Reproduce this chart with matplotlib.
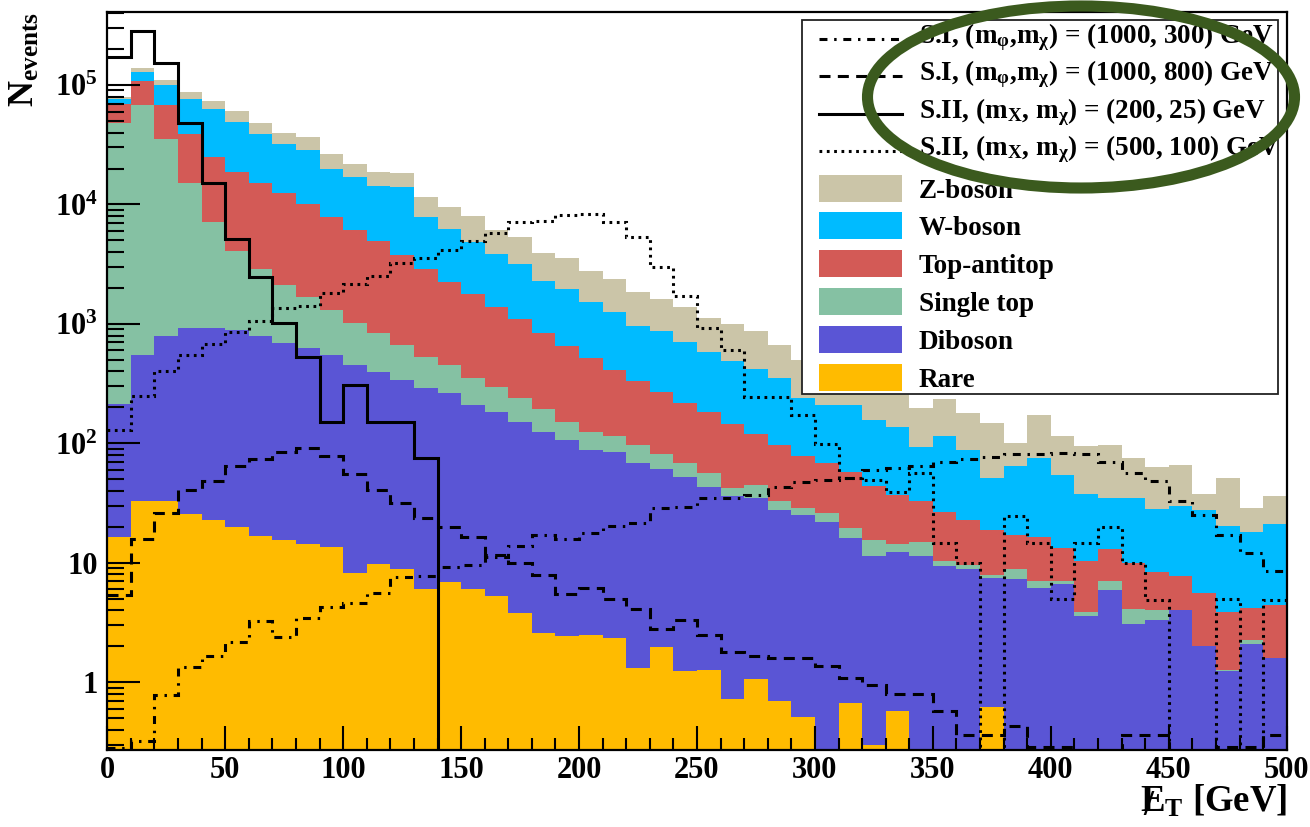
import numpy as np
import matplotlib
matplotlib.use('Agg')
import matplotlib.pyplot as plt
from matplotlib.patches import Rectangle, Ellipse
from matplotlib.lines import Line2D
from matplotlib.ticker import LogLocator, MultipleLocator, NullFormatter
from matplotlib.transforms import IdentityTransform

plt.rcParams['font.family'] = ['Liberation Serif', 'DejaVu Serif']
plt.rcParams['font.weight'] = 'bold'
plt.rcParams['mathtext.fontset'] = 'custom'
plt.rcParams['mathtext.rm'] = 'Liberation Serif:bold'
plt.rcParams['mathtext.bf'] = 'Liberation Serif:bold'
plt.rcParams['mathtext.it'] = 'Liberation Serif:bold'
plt.rcParams['mathtext.default'] = 'bf'

# 10 GeV bins of missing transverse energy
edges = np.arange(0, 510, 10)

# background processes (events per bin), bottom of the stack first
rare = [16.5, 33, 33, 25.5, 22.8, 20, 16.8, 15.5, 14.4, 13.6,
        8.2, 9.8, 8.8, 6.0, 6.95, 6.1, 5.3, 3.8, 2.57, 2.44,
        2.49, 2.36, 1.31, 1.99, 1.25, 1.26, 0.73, 1.07, 0.70, 0.51,
        0, 0.67, 0.3, 0.57, 0, 0, 0, 0.62, 0, 0,
        0, 0, 0, 0, 0, 0, 0, 0, 0, 0]
diboson = [197, 517, 757, 894, 896, 870, 775, 682, 611, 536,
           445, 388, 331, 283, 255, 204, 178, 146, 121, 105,
           85.5, 81.6, 67.7, 59, 50.8, 42.1, 35.3, 33.6, 26.8, 24.5,
           22, 15.6, 11.1, 11.8, 11.4, 9.4, 8.8, 6.8, 7.3, 6.2,
           6.7, 3.6, 5.9, 3.1, 3.3, 4.0, 2.0, 1.24, 2.1, 1.6]
single_top = [47800, 67500, 34800, 14300, 6180, 3210, 2080, 1420, 1065, 760,
              567, 447, 326, 243, 191, 145, 112, 88, 69, 45,
              37, 31, 28, 20.5, 16, 13.5, 6, 10.1, 5.5, 3.6,
              4, 3.2, 4.1, 2.0, 3.6, 1.0, 0.8, 0.5, 1.5, 0.9,
              0.3, 0.3, 1.1, 1.0, 0.7, 0, 0, 0.03, 0.15, 0]
ttbar = [21000, 40000, 32400, 23500, 17900, 14700, 12300, 10400, 8410, 6590,
         5080, 4135, 3114, 2338, 1807, 1425, 1095, 852, 641, 505,
         396, 296, 238, 186.5, 148, 127, 103, 76, 64, 49.4,
         42, 38.5, 28.5, 22.6, 18, 16.4, 13.4, 10.9, 8.3, 9.3,
         6.2, 6.5, 6.0, 5.8, 4.4, 3.7, 3.6, 2.63, 1.95, 2.8]
wjets = [7000, 21000, 32000, 37300, 38000, 30500, 23500, 19500, 18500, 12100,
         11000, 9420, 10120, 5030, 3970, 3100, 2460, 2080, 1466, 1293,
         1009, 859, 631, 605, 486, 402, 347, 296, 254, 160,
         142, 152, 113, 101, 61, 88, 65, 33, 47, 59,
         41, 27.6, 22, 25, 19.6, 22.3, 22.1, 16.4, 14, 16.6]
zjets = [4000, 9000, 10000, 12000, 11000, 11300, 9600, 8000, 7900, 6400,
         4600, 4200, 4300, 3700, 3240, 3120, 2250, 2130, 1600, 1590,
         1260, 1110, 894, 737, 688, 544, 506, 460, 315, 261,
         215, 215, 163, 142, 102, 120, 91, 97, 36, 98,
         61, 57, 62, 41, 36, 36, 10.3, 30.7, 10.4, 15]

# signal benchmarks
si_1000_300 = [0.28, 0.32, 0.78, 1.35, 1.66, 2.16, 3.26, 2.38, 3.43, 4.25,
               4.58, 5.6, 7.65, 7.76, 9.3, 9.6, 11.1, 13.8, 17.1, 15.7,
               17.9, 20.3, 21.7, 28.6, 29.5, 34.7, 34.7, 37, 43.4, 47.8,
               49.3, 51, 59.9, 61.8, 64.7, 70, 73.6, 77.4, 81.5, 81.5,
               83.6, 81.5, 70, 56.9, 48.7, 33, 25.1, 17.1, 12.2, 8.6]
si_1000_800 = [5.4, 15.7, 26.3, 40.7, 48.4, 64.7, 73.6, 85, 92, 78,
               55, 41, 32, 23.9, 20, 16.5, 11.6, 9.9, 7.9, 5.5,
               6.2, 5.0, 4.1, 2.8, 3.3, 2.5, 1.8, 1.66, 1.59, 1.59,
               1.37, 1.08, 0.95, 0.8, 0.8, 0.58, 0.36, 0.36, 0.43, 0.29,
               0.29, 0, 0, 0.36, 0.36, 0, 0, 0.29, 0.29, 0.36]
sii_200_25 = [1.7e5, 2.83e5, 1.54e5, 4.83e4, 1.52e4, 5100, 2480, 1020, 526, 152,
              308, 152, 152, 76, 0, 0, 0, 0, 0, 0,
              0, 0, 0, 0, 0, 0, 0, 0, 0, 0,
              0, 0, 0, 0, 0, 0, 0, 0, 0, 0,
              0, 0, 0, 0, 0, 0, 0, 0, 0, 0]
sii_500_100 = [129, 249, 405, 550, 680, 851, 1060, 1350, 1410, 1800,
               2160, 2520, 3210, 3540, 4160, 4980, 5740, 7180, 7300, 8200,
               8300, 7180, 5300, 3000, 1710, 919, 605, 246, 246, 173,
               99, 51, 49, 39, 56, 14.8, 9.9, 0, 24.7, 14.8,
               5.0, 14.6, 19.8, 9.9, 4.9, 0, 0, 5.0, 0, 4.9]

bkg_names = ['Rare', 'Diboson', 'Single top', 'Top-antitop', 'W-boson', 'Z-boson']
bkg_colors = ['#FFBB00', '#5A55D5', '#85C1A3', '#D35A56', '#00BBFF', '#CBC5A8']

sig_labels = [r'S.I, (m$_{\varphi}$,m$_{\chi}$) = (1000, 300) GeV',
              r'S.I, (m$_{\varphi}$,m$_{\chi}$) = (1000, 800) GeV',
              r'S.II, (m$_{X}$, m$_{\chi}$) = (200, 25) GeV',
              r'S.II, (m$_{X}$, m$_{\chi}$) = (500, 100) GeV']
sig_styles = [(0, (2.6, 2.2, 0.8, 2.2)), (0, (3.6, 2.4)), '-', (0, (0.9, 1.5))]

fig = plt.figure(figsize=(13.1, 8.27), dpi=100)
ax = fig.add_axes([0.0819, 0.0931, 0.9003, 0.8920])
ax.set_yscale('log')

# stacked backgrounds
bottom = np.full(len(edges) - 1, 1e-3)
for vals, col in zip([rare, diboson, single_top, ttbar, wjets, zjets], bkg_colors):
    top = bottom + np.asarray(vals, dtype=float)
    ax.stairs(top, edges, baseline=bottom, fill=True, color=col, lw=0, zorder=1)
    bottom = top

# signal outlines
for vals, ls in zip([si_1000_300, si_1000_800, sii_200_25, sii_500_100], sig_styles):
    ax.stairs(np.clip(vals, 1e-3, None), edges, baseline=None, fill=False,
              edgecolor='black', lw=2.2, linestyle=ls, zorder=3)

ax.set_xlim(0, 500)
ax.set_ylim(0.2713, 4.06e5)

ax.set_xticks(np.arange(0, 501, 50))
ax.xaxis.set_minor_locator(MultipleLocator(10))
ax.set_yticks([1, 10, 100, 1e3, 1e4, 1e5],
              ['1', '10', r'$10^{2}$', r'$10^{3}$', r'$10^{4}$', r'$10^{5}$'])
ax.yaxis.set_minor_locator(LogLocator(10, subs=np.arange(2, 10), numticks=30))
ax.yaxis.set_minor_formatter(NullFormatter())
ax.tick_params(which='both', direction='in', width=1.5, labelsize=22, colors='black')
ax.tick_params(axis='y', which='major', length=23.5, pad=7)
ax.tick_params(axis='y', which='minor', length=12)
ax.tick_params(axis='x', which='major', length=17, pad=4)
ax.tick_params(axis='x', which='minor', length=8.5)
for sp in ax.spines.values():
    sp.set_linewidth(1.6)
    sp.set_zorder(8)


# legend drawn by hand, rows placed in axes fraction
def ay(py):
    return (750 - py) / 737.7


ax.add_patch(Rectangle((0.589, ay(394)), 0.4036, ay(20) - ay(394), transform=ax.transAxes,
                       facecolor='white', edgecolor='#222222', lw=1.3, zorder=5))
hx0, hx1, tx = 0.6034, 0.6738, 0.6882
for i, (lab, ls) in enumerate(zip(sig_labels, sig_styles)):
    yl = ay(39 + 37.3 * i)
    ax.add_artist(Line2D([hx0, hx1], [yl, yl], transform=ax.transAxes, color='black',
                         lw=2.2, linestyle=ls, zorder=6))
    ax.text(tx, ay(43 + 37.3 * i), lab, transform=ax.transAxes, fontsize=19.5,
            va='baseline', ha='left', zorder=7)
for i, (lab, col) in enumerate(zip(bkg_names[::-1], bkg_colors[::-1])):
    yc = ay(188 + 37.8 * i)
    ax.add_patch(Rectangle((hx0, yc - 0.0183), hx1 - hx0, 0.0366, transform=ax.transAxes,
                           facecolor=col, edgecolor='none', zorder=6))
    ax.text(tx, ay(197.5 + 37.8 * i), lab, transform=ax.transAxes, fontsize=19.5,
            va='baseline', ha='left', zorder=7)

# axis titles
fig.text(25 / 1310, 1 - 12 / 827, r'N$_{events}$', rotation=90, ha='center', va='top',
         fontsize=26)
xl = fig.text(1287 / 1310, 1 - 812 / 827, r'E$_{T}$ [GeV]', ha='right', va='baseline',
              fontsize=26.5)
fig.canvas.draw()
bb = xl.get_window_extent()
# slash through the E for missing transverse energy
fig.text(bb.x0 + 9, 827 - 815, '/', transform=IdentityTransform(), ha='center',
         va='baseline', fontsize=26)

# highlight around the signal entries
fig.add_artist(Ellipse((1081 / 1310, 1 - 97 / 827), 427 / 1310, 182 / 827,
                       transform=fig.transFigure, fill=False, edgecolor='#3B5A1E',
                       lw=8, zorder=10))

fig.savefig('out.png', dpi=100)
